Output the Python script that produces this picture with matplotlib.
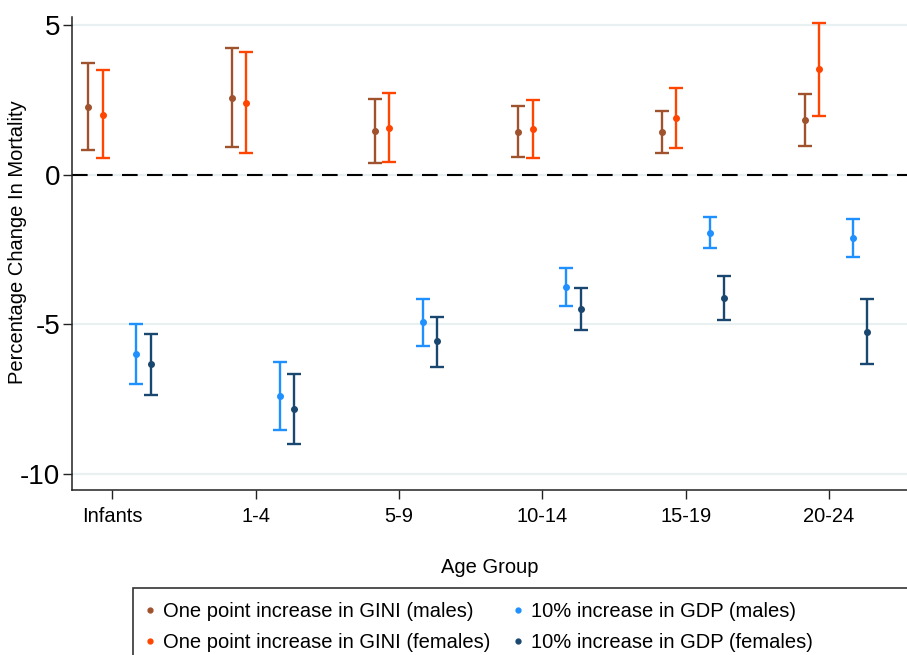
import numpy as np
import matplotlib
matplotlib.use("Agg")
import matplotlib.pyplot as plt
from matplotlib.lines import Line2D
from matplotlib.patches import Rectangle

plt.rcParams['font.family'] = ['Liberation Sans', 'DejaVu Sans']

# age groups on the x axis
age_groups = ['Infants', '1-4', '5-9', '10-14', '15-19', '20-24']

# point estimates and confidence bounds
gini_m = [2.27, 2.56, 1.47, 1.45, 1.43, 1.83]
gini_m_lo = [0.84, 0.92, 0.40, 0.60, 0.73, 0.96]
gini_m_hi = [3.75, 4.23, 2.54, 2.31, 2.12, 2.69]

gini_f = [2.01, 2.41, 1.58, 1.54, 1.91, 3.54]
gini_f_lo = [0.55, 0.73, 0.42, 0.58, 0.89, 1.98]
gini_f_hi = [3.51, 4.11, 2.74, 2.51, 2.92, 5.07]

gdp_m = [-6.00, -7.40, -4.93, -3.76, -1.94, -2.12]
gdp_m_lo = [-7.01, -8.53, -5.71, -4.37, -2.45, -2.75]
gdp_m_hi = [-4.99, -6.25, -4.16, -3.13, -1.41, -1.48]

gdp_f = [-6.33, -7.82, -5.56, -4.49, -4.11, -5.26]
gdp_f_lo = [-7.36, -8.99, -6.41, -5.18, -4.85, -6.33]
gdp_f_hi = [-5.31, -6.65, -4.74, -3.79, -3.38, -4.15]

series_labels = ['One point increase in GINI (males)',
                 'One point increase in GINI (females)',
                 '10% increase in GDP (males)',
                 '10% increase in GDP (females)']

y_ticks = [5, 0, -5, -10]

# Stata-like colours
colors = ['#A0522D', '#FF4500', '#1E90FF', '#1A476F']
offsets = [-0.167, -0.067, 0.167, 0.267]

fig = plt.figure(figsize=(9.07, 6.55), dpi=100)
ax = fig.add_axes([72 / 907, 165 / 655, 835 / 907, 473 / 655])

pos = np.arange(1, len(age_groups) + 1)
series = [(gini_m, gini_m_lo, gini_m_hi),
          (gini_f, gini_f_lo, gini_f_hi),
          (gdp_m, gdp_m_lo, gdp_m_hi),
          (gdp_f, gdp_f_lo, gdp_f_hi)]

# light grid lines
for t in y_ticks:
    ax.axhline(t, color='#E8F0F2', lw=1.6, zorder=0)
ax.axhline(0, color='black', lw=1.5, dashes=(7.5, 4.5), zorder=1)

for (est, lo, hi), col, off in zip(series, colors, offsets):
    est = np.array(est)
    err = [est - np.array(lo), np.array(hi) - est]
    ax.errorbar(pos + off, est, yerr=err, fmt='o', color=col, ms=4,
                elinewidth=1.7, capsize=4.8, capthick=1.7, zorder=3)

ax.set_xlim(0.719, 6.544)
ax.set_ylim(-10.54, 5.28)
ax.set_xticks(pos)
ax.set_xticklabels(age_groups, fontsize=14.5)
ax.set_yticks(y_ticks)
ax.set_yticklabels([str(t) for t in y_ticks], fontsize=20)
ax.tick_params(axis='both', length=6.5, width=1.0, color='#222222')
ax.tick_params(axis='x', pad=6)
ax.tick_params(axis='y', pad=2)

for s in ['top', 'right']:
    ax.spines[s].set_visible(False)
for s in ['left', 'bottom']:
    ax.spines[s].set_color('#222222')
    ax.spines[s].set_linewidth(1.1)

ax.set_xlabel('Age Group', fontsize=14.5)
ax.xaxis.set_label_coords(0.5, -0.143)
ax.set_ylabel('Percentage Change In Mortality', fontsize=14.5)
ax.yaxis.set_label_coords(-0.054, 0.525)

# legend
handles = [Line2D([], [], marker='o', ls='none', color=c, ms=3.5) for c in colors]
fig.legend(handles, series_labels, loc='upper left', ncol=2,
           bbox_to_anchor=(134 / 907, 1 - 592 / 655), frameon=False,
           fontsize=14.5, handlelength=0.6, handletextpad=0.35,
           columnspacing=1.05, labelspacing=0.6, borderpad=0)
fig.patches.append(Rectangle((133 / 907, -0.05), 1.0, (655 - 588) / 655 + 0.05,
                             fill=False, ec='#333333', lw=1.2,
                             transform=fig.transFigure, figure=fig))

fig.savefig('out.png', dpi=100, facecolor='white')
